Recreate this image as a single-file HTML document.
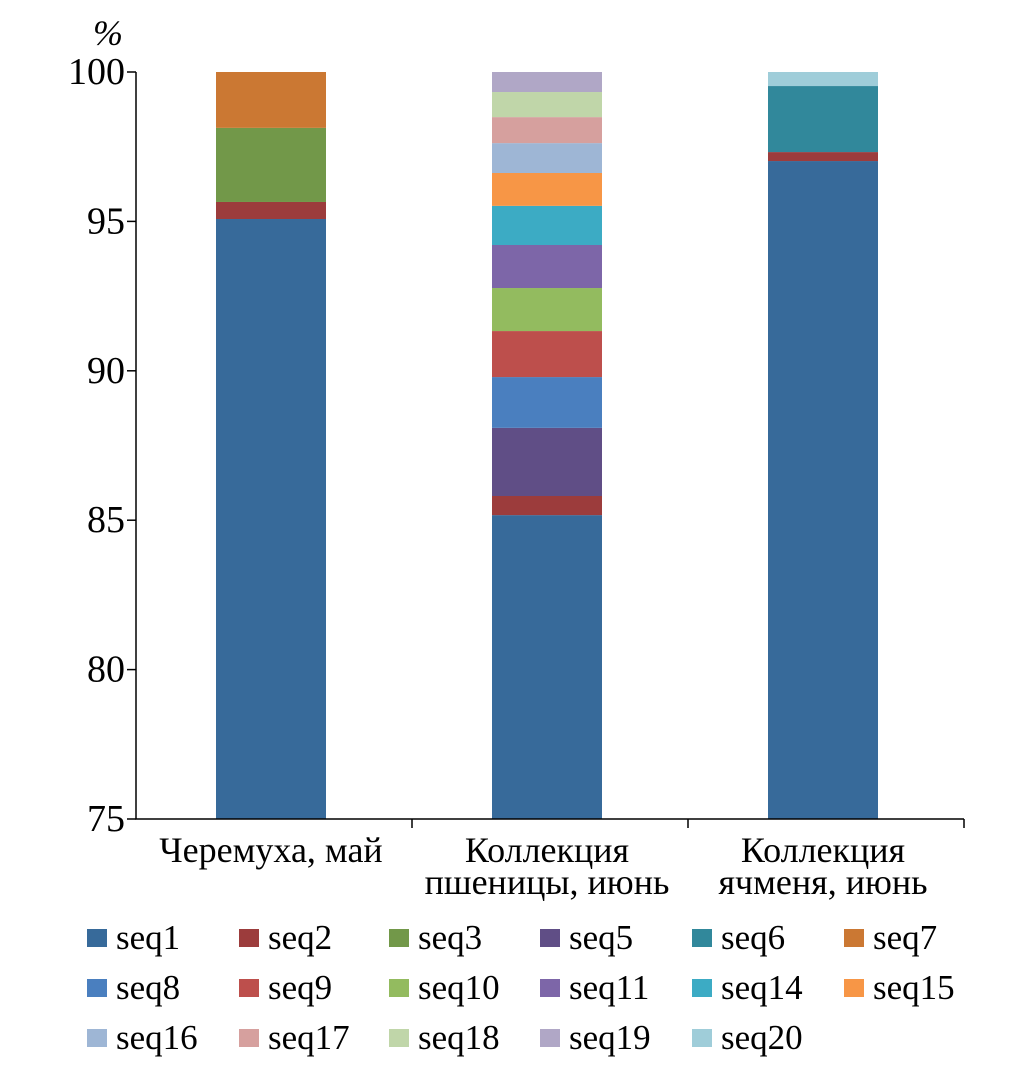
<!DOCTYPE html>
<html><head><meta charset="utf-8"><style>
body{margin:0;background:#fff}
svg text{font-family:"Liberation Serif",serif;fill:#000}
</style></head><body>
<svg width="1010" height="1069" id="c"></svg>
<script>
const categories=[["Черемуха, май"],["Коллекция","пшеницы, июнь"],["Коллекция","ячменя, июнь"]];
const seriesNames=["seq1","seq2","seq3","seq5","seq6","seq7","seq8","seq9","seq10","seq11","seq14","seq15","seq16","seq17","seq18","seq19","seq20"];
const seriesColors=["#376a9a","#9c3c3c","#729849","#604e86","#31889b","#cb7833","#4a7fbf","#bd4f4c","#93bb5f","#7d66a8","#3cabc4","#f79646","#9eb6d5","#d6a09e","#c0d6a9","#b0a7c6","#9fcdd9"];
const bar1=[95.08,0.57,2.48,0,0,1.87,0,0,0,0,0,0,0,0,0,0,0];
const bar2=[85.17,0.64,0,2.28,0,0,1.70,1.54,1.44,1.44,1.31,1.10,1.00,0.87,0.84,0.67,0];
const bar3=[97.02,0.30,0,0,2.21,0,0,0,0,0,0,0,0,0,0,0,0.47];
const yTicks=[75,80,85,90,95,100];
const bars=[bar1,bar2,bar3];
const ns="http://www.w3.org/2000/svg",svg=document.getElementById('c');
const X0=136,X1=964,Y0=819,Y1=72,ymin=75,ymax=100;
const y=v=>Y0-(v-ymin)/(ymax-ymin)*(Y0-Y1);
const bw=(X1-X0)/categories.length;
const xc=i=>X0+bw*(i+0.5);
function mk(t,a,p){const e=document.createElementNS(ns,t);for(const k in a)e.setAttribute(k,a[k]);(p||svg).appendChild(e);return e;}
bars.forEach((vals,i)=>{
  let base=0;
  vals.forEach((v,s)=>{
    if(v<=0)return;
    const lo=Math.max(base,ymin),hi=base+v;base=hi;
    if(hi<=ymin)return;
    const r=mk('rect',{x:xc(i)-58,y:y(hi),width:110,height:y(lo)-y(hi),fill:seriesColors[s]});
    
    
  });
});
let a=mk('path',{d:`M${X0},${Y1}V${Y0}H${X1}`,stroke:'#000','stroke-width':1.5,fill:'none'});

yTicks.forEach(t=>{
  const l=mk('line',{x1:X0-9,x2:X0,y1:y(t),y2:y(t),stroke:'#000','stroke-width':1.5});
  
  const tx=mk('text',{x:X0-11,y:y(t)+12,'text-anchor':'end','font-size':38});
  tx.textContent=t;
  
});
for(let i=1;i<=categories.length;i++){
  const l=mk('line',{x1:X0+bw*i,x2:X0+bw*i,y1:Y0,y2:Y0+9,stroke:'#000','stroke-width':1.5});
  
}
categories.forEach((c,i)=>{
  c.forEach((ln,j)=>{
    const tx=mk('text',{x:xc(i)-3,y:862+j*32,'text-anchor':'middle','font-size':36});
    tx.textContent=ln;
    
  });
});
const pc=mk('text',{x:108,y:45,'text-anchor':'middle','font-size':36,'font-style':'italic'});
pc.textContent='%';
const lx=[87,239,389,540,692,844],ly=[938,988,1038];
seriesNames.forEach((n,k)=>{
  const cx=lx[k%6],cy=ly[Math.floor(k/6)];
  const g=mk('g',{});
  
  mk('rect',{x:cx,y:cy-9,width:20,height:18,fill:seriesColors[k]},g);
  const t=mk('text',{x:cx+29,y:cy+11,'font-size':35},g);t.textContent=n;
});
</script>
</body></html>
